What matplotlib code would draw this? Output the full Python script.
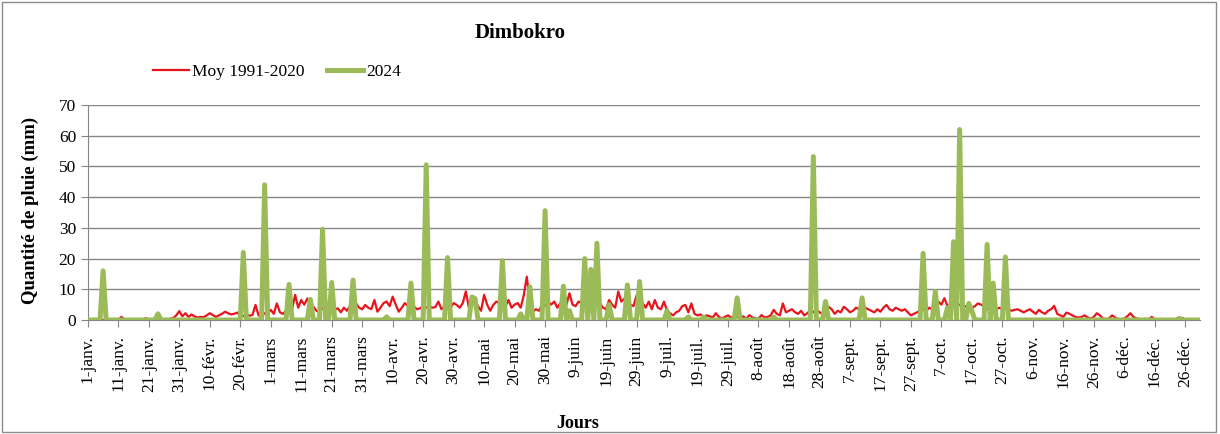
import matplotlib.pyplot as plt
from matplotlib.patches import Rectangle

# daily rainfall (mm), 366 days, one list per month
moy_jan = [0, 0, 0, 0, 0, 0, 0, 0, 0, 0, 0, 1.0, 0.2, 0, 0, 0, 0, 0, 0, 0.6,
           0, 0, 0, 0, 0, 0, 0, 0.4, 0.6, 1.5, 2.9]
moy_feb = [1.2, 2.2, 1.0, 1.8, 1.2, 0.8, 1.0, 0.9, 1.5, 2.2, 1.6, 1.0, 1.5, 2.0, 2.7, 2.2, 1.8, 2.0, 2.4, 1.5,
           1.2, 1.8, 1.4, 1.6, 4.9, 1.5, 1.2, 2.2, 2.0]
moy_mar = [3.3, 2.0, 5.4, 2.5, 2.0, 3.0, 4.5, 3.5, 8.2, 4.0, 6.5, 5.0, 7.0, 4.5, 4.3, 3.0, 2.5, 4.0, 3.5, 2.0,
           2.5, 3.3, 3.8, 2.5, 4.0, 3.0, 4.5, 3.5, 5.4, 4.0, 3.5]
moy_apr = [4.9, 4.0, 3.5, 6.5, 2.7, 4.0, 5.5, 6.0, 4.5, 7.6, 5.0, 2.7, 4.0, 5.5, 4.5, 5.0, 4.3, 3.5, 3.8, 4.5,
           4.0, 4.5, 4.0, 4.2, 6.0, 3.5, 4.5, 5.0, 4.0, 5.5]
moy_may = [4.9, 4.0, 5.5, 9.3, 4.0, 5.0, 6.0, 4.5, 3.0, 8.2, 5.0, 3.0, 4.9, 6.0, 5.5, 4.0, 4.5, 6.5, 4.0, 5.0,
           5.5, 4.0, 8.0, 14.1, 6.0, 2.7, 3.5, 3.0, 5.0, 4.5, 6.0]
moy_jun = [5.0, 6.0, 4.0, 5.5, 3.5, 5.0, 8.7, 5.0, 4.5, 6.0, 5.5, 4.0, 5.0, 6.0, 4.5, 5.5, 5.4, 4.0, 3.5, 6.5,
           5.0, 4.0, 9.3, 6.0, 7.0, 5.5, 5.0, 4.5, 8.0, 6.5]
moy_jul = [5.5, 4.0, 6.0, 3.5, 6.5, 4.0, 3.5, 6.0, 3.0, 2.2, 1.5, 2.5, 3.0, 4.5, 4.9, 2.5, 5.4, 2.0, 1.5, 1.8,
           1.0, 1.5, 1.2, 0.8, 2.2, 1.0, 0.5, 1.0, 1.5, 0.8, 1.0]
moy_aug = [1.0, 0.5, 1.2, 0.3, 1.6, 0.8, 0.5, 0.4, 1.6, 0.8, 1.0, 1.5, 3.3, 2.0, 1.5, 5.4, 2.5, 3.0, 3.5, 2.5,
           2.0, 3.0, 1.5, 2.2, 3.0, 2.5, 3.5, 2.5, 2.0, 3.0, 4.3]
moy_sep = [3.5, 2.0, 3.0, 2.5, 4.3, 3.5, 2.5, 3.0, 4.0, 3.5, 6.0, 4.0, 3.5, 3.0, 2.5, 3.5, 2.7, 4.0, 4.9, 3.5,
           3.0, 4.0, 3.5, 3.0, 3.5, 2.5, 1.5, 2.0, 2.5, 3.0]
moy_oct = [3.5, 3.0, 4.0, 3.5, 5.0, 6.0, 5.0, 7.1, 4.5, 5.0, 6.0, 4.5, 5.0, 4.0, 4.5, 5.0, 4.0, 4.5, 5.4, 5.0,
           4.5, 3.5, 4.0, 3.0, 3.5, 4.0, 3.5, 4.0, 3.5, 3.0, 3.3]
moy_nov = [3.5, 3.0, 2.5, 3.0, 3.5, 2.7, 2.0, 3.3, 2.5, 2.0, 3.0, 3.5, 4.6, 2.0, 1.5, 1.0, 2.4, 2.0, 1.5, 1.0,
           0.8, 1.0, 1.5, 0.8, 0.5, 1.0, 2.2, 1.5, 0.5, 0.3]
moy_dec = [0.5, 1.5, 0.8, 0.3, 0.2, 0.5, 1.2, 2.2, 1.0, 0.5, 0.3, 0.2, 0.4, 0.2, 1.0, 0.3, 0.1, 0, 0, 0,
           0, 0, 0, 0, 0.7, 0.2, 0, 0, 0, 0, 0]

y24_jan = [0, 0, 0, 0, 0, 16, 0, 0, 0, 0, 0, 0, 0, 0, 0, 0, 0, 0, 0, 0,
           0, 0, 0, 2, 0, 0, 0, 0, 0, 0, 0]
y24_feb = [0, 0, 0, 0, 0, 0, 0, 0, 0, 0, 0, 0, 0, 0, 0, 0, 0, 0, 0, 0,
           22, 0, 0, 0, 0, 0, 0, 44, 0]
y24_mar = [0, 0, 0, 0, 0, 0, 11.6, 0, 0, 0, 0, 0, 0, 6.7, 0, 0, 0, 29.5, 0, 0,
           12.2, 0, 0, 0, 0, 0, 0, 13, 0, 0, 0]
y24_apr = [0, 0, 0, 0, 0, 0, 0, 1, 0, 0, 0, 0, 0, 0, 0, 12, 0, 0, 0, 0,
           50.5, 0, 0, 0, 0, 0, 0, 20.3, 0, 0]
y24_may = [0, 0, 0, 0, 0, 7.5, 7, 0, 0, 0, 0, 0, 0, 0, 0, 19.3, 0, 0, 0, 0,
           0, 2, 0, 0, 10.8, 0, 0, 0, 0, 35.6, 0]
y24_jun = [0, 0, 0, 0, 11, 0, 3, 0, 0, 0, 0, 20, 0, 16.5, 0, 25, 0, 0, 0, 5,
           0, 0, 0, 0, 0, 11.4, 0, 0, 0, 12.5]
y24_jul = [0, 0, 0, 0, 0, 0, 0, 0, 3, 0, 0, 0, 0, 0, 0, 1, 0, 0, 0, 0,
           1, 0, 0, 0, 0, 0, 0, 0, 0, 0, 0]
y24_aug = [7.2, 0, 0, 0, 0, 0, 0, 0, 0, 0, 0, 0, 1, 0, 0, 0, 0, 0, 0, 0,
           0, 0, 0, 0, 0, 53.2, 0, 0, 0, 6, 0]
y24_sep = [0, 0, 0, 0, 0, 0, 0, 0, 0, 0, 7.2, 0, 0, 0, 0, 0, 0, 0, 0, 0,
           0, 0, 0, 0, 0, 0, 0, 0, 0, 0]
y24_oct = [21.7, 0, 0, 0, 9.3, 0, 0, 0, 4, 0, 25.5, 0, 62, 0, 0, 5.4, 3, 0, 0, 0,
           0, 24.6, 0, 12, 0, 0, 0, 20.5, 0, 0, 0]
y24_nov = [0, 0, 0, 0, 0, 0, 0, 0, 0, 0, 0, 0, 0, 0, 0, 0, 0, 0, 0, 0,
           0, 0, 0, 0, 0, 0, 0, 0, 0, 0]
y24_dec = [0, 0, 0, 0, 0, 0, 0, 0, 0, 0, 0, 0, 0, 0, 0, 0, 0, 0, 0, 0,
           0, 0, 0, 0.5, 0, 0, 0, 0, 0, 0, 0]

tick_labels = ['1-janv.', '11-janv.', '21-janv.', '31-janv.', '10-févr.', '20-févr.', '1-mars',
               '11-mars', '21-mars', '31-mars', '10-avr.', '20-avr.', '30-avr.', '10-mai',
               '20-mai', '30-mai', '9-juin', '19-juin', '29-juin', '9-juil.', '19-juil.',
               '29-juil.', '8-août', '18-août', '28-août', '7-sept.', '17-sept.', '27-sept.',
               '7-oct.', '17-oct.', '27-oct.', '6-nov.', '16-nov.', '26-nov.', '6-déc.',
               '16-déc.', '26-déc.']

moy = (moy_jan + moy_feb + moy_mar + moy_apr + moy_may + moy_jun +
       moy_jul + moy_aug + moy_sep + moy_oct + moy_nov + moy_dec)
y2024 = (y24_jan + y24_feb + y24_mar + y24_apr + y24_may + y24_jun +
         y24_jul + y24_aug + y24_sep + y24_oct + y24_nov + y24_dec)
days = list(range(len(moy)))

plt.rcParams['font.family'] = ['Liberation Serif', 'DejaVu Serif']

fig = plt.figure(figsize=(12.2, 4.34), dpi=100)
ax = fig.add_axes([0.072, 0.2627, 0.912, 0.4954])

ax.plot(days, moy, color='#E8141B', lw=1.6, label='Moy 1991-2020', zorder=3)
ax.plot(days, y2024, color='#9BBB59', lw=3.6, label='2024', zorder=4)

ax.set_xlim(0, 365)
ax.set_ylim(0, 70)
ax.set_yticks(range(0, 71, 10))
ax.set_xticks(days[::10])
ax.set_xticklabels(tick_labels, rotation=90, fontsize=12.5)
ax.tick_params(axis='y', labelsize=12.5, length=5, color='#868686')
ax.tick_params(axis='x', length=5, color='#868686', pad=6)
ax.grid(axis='y', color='#868686', lw=1)
ax.set_axisbelow(True)
for s in ['top', 'right']:
    ax.spines[s].set_visible(False)
for s in ['left', 'bottom']:
    ax.spines[s].set_color('#868686')

fig.text(520 / 1220, 1 - 33 / 434, 'Dimbokro', fontsize=15, fontweight='bold', ha='center', va='center')
fig.text(30 / 1220, 0.516, 'Quantité de pluie (mm)', fontsize=13.5, fontweight='bold',
         rotation=90, ha='center', va='center')
fig.text(578 / 1220, 1 - 424 / 434, 'Jours', fontsize=13, fontweight='bold', ha='center', va='center')

fig.legend(loc='center left', bbox_to_anchor=(137 / 1220, 1 - 72 / 434), ncol=2, frameon=False,
           fontsize=12.5, handlelength=2.1, handletextpad=0.15, columnspacing=1.3)

fig.patches.append(Rectangle((0.002, 0.004), 0.995, 0.992, transform=fig.transFigure,
                             fill=False, edgecolor='#8c8c8c', lw=1))

fig.savefig('out.png', dpi=100)
